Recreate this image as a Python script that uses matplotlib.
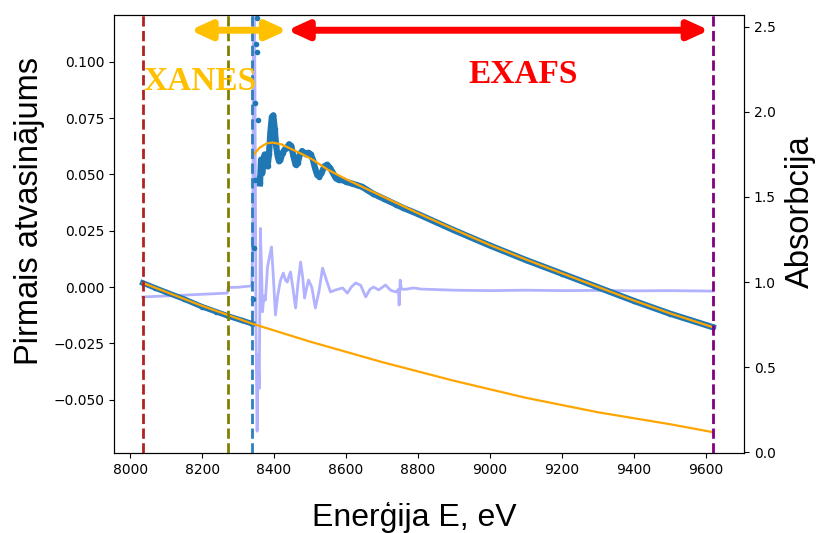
import matplotlib
matplotlib.use("Agg")
import matplotlib.pyplot as plt

# absorption spectrum (right axis), pre-edge part, white line, post-edge part
pre_e = [8035, 8070, 8100, 8150, 8200, 8240, 8273, 8310, 8340]
pre_mu = [0.995, 0.965, 0.94, 0.90, 0.855, 0.825, 0.80, 0.775, 0.755]

edge_e = [8342, 8344, 8346, 8348, 8350, 8352, 8354, 8356, 8358]
edge_mu = [0.90, 1.20, 1.60, 2.05, 2.40, 2.55, 2.35, 1.95, 1.62]

post_e = [8361, 8364, 8367, 8370, 8374, 8378, 8382, 8386,
          8390, 8394, 8398, 8402, 8406, 8410, 8414, 8418,
          8424, 8430, 8436, 8442, 8448, 8454, 8460, 8466,
          8472, 8478, 8484, 8490, 8496, 8502, 8508, 8514,
          8520, 8526, 8532, 8540, 8548, 8556, 8564, 8572,
          8580, 8590, 8600, 8615, 8630, 8645, 8660, 8675,
          8690, 8705, 8720, 8740, 8760, 8800, 8900, 9000,
          9100, 9200, 9300, 9400, 9500, 9620]
post_mu = [1.58, 1.72, 1.64, 1.68, 1.75, 1.70, 1.68, 1.75,
           1.88, 1.97, 1.98, 1.90, 1.80, 1.74, 1.71, 1.72,
           1.76, 1.78, 1.79, 1.81, 1.80, 1.74, 1.69, 1.70,
           1.75, 1.77, 1.76, 1.75, 1.76, 1.75, 1.72, 1.67,
           1.63, 1.62, 1.64, 1.68, 1.69, 1.67, 1.64, 1.61,
           1.60, 1.60, 1.59, 1.58, 1.57, 1.56, 1.54, 1.52,
           1.505, 1.49, 1.475, 1.455, 1.435, 1.40, 1.305, 1.215,
           1.13, 1.05, 0.97, 0.89, 0.815, 0.735]

# pre-edge and post-edge fits
pre_fit_e = [8035, 8200, 8340, 8500, 8700, 8900, 9100, 9300, 9500, 9620]
pre_fit_mu = [0.995, 0.86, 0.755, 0.65, 0.53, 0.42, 0.32, 0.235, 0.165, 0.118]

post_fit_e = [8340, 8360, 8380, 8396, 8420, 8450, 8480, 8507,
              8550, 8600, 8650, 8700, 8750, 8800, 8900, 9000,
              9100, 9200, 9300, 9400, 9500, 9620]
post_fit_mu = [1.74, 1.79, 1.815, 1.82, 1.81, 1.78, 1.75, 1.72,
               1.66, 1.605, 1.555, 1.505, 1.455, 1.405, 1.31, 1.218,
               1.133, 1.052, 0.972, 0.892, 0.817, 0.735]

# first derivative (left axis)
der_e = [8035, 8150, 8270, 8273, 8300, 8338, 8341, 8344,
         8347, 8350, 8353, 8356, 8359, 8362, 8365, 8368,
         8372, 8376, 8382, 8388, 8393, 8398, 8404, 8410,
         8418, 8426, 8432, 8437, 8441, 8446, 8453, 8460,
         8467, 8474, 8480, 8485, 8490, 8496, 8505, 8515,
         8525, 8535, 8546, 8557, 8571, 8591, 8604, 8615,
         8627, 8641, 8655, 8667, 8677, 8691, 8710, 8725,
         8740, 8746, 8748, 8751, 8754, 8766, 8788, 8808,
         8900, 9000, 9100, 9200, 9300, 9400, 9500, 9620]
der_v = [-0.0044, -0.0036, -0.0027, -0.0002, -0.0001, 0.0005, 0.02, 0.16,
         0.09, -0.02, -0.064, -0.03, -0.045, 0.026, 0.01, -0.011,
         -0.004, -0.0058, 0.0089, 0.014, 0.0178, 0.005, -0.0124, -0.004,
         0.003, 0.0062, 0.003, 0.0022, 0.0045, 0.0067, -0.001, -0.0093,
         0.002, 0.0111, 0.004, -0.0049, -0.001, 0.0031, 0.0, -0.0093,
         -0.002, 0.0084, 0.003, -0.0022, -0.0013, -0.0004, -0.0027, 0.0,
         0.0018, 0.0008, -0.0044, -0.001, 0.0, -0.0013, 0.0009, -0.0015,
         -0.0022, -0.001, -0.008, 0.0031, -0.0009, -0.001, -0.0004, -0.0009,
         -0.0014, -0.0016, -0.0014, -0.0016, -0.0015, -0.0017, -0.0016, -0.0018]

# region boundaries
e0_start = 8035
pre_end = 8273
edge = 8340
e_end = 9620

fig = plt.figure(figsize=(8.23, 5.33), dpi=100)
ax = fig.add_axes([0.1385, 0.150, 0.7655, 0.822])
ax2 = ax.twinx()

ax.plot(der_e, der_v, color="blue", alpha=0.3, lw=2)
ax.set_xlim(7955, 9707)
ax.set_ylim(-0.0737, 0.1208)
ax.set_yticks([-0.050, -0.025, 0.0, 0.025, 0.050, 0.075, 0.100])

blue = "#1f77b4"
ax2.plot(pre_e, pre_mu, color=blue, lw=4, marker="o", ms=3)
ax2.plot(edge_e, edge_mu, color=blue, ls="none", marker="o", ms=3)
ax2.plot(post_e, post_mu, color=blue, lw=4.5, marker="o", ms=3)
ax2.plot(pre_fit_e, pre_fit_mu, color="orange", lw=1.6)
ax2.plot(post_fit_e, post_fit_mu, color="orange", lw=1.6)

ax2.axvline(e0_start, color="firebrick", ls="--", lw=2)
ax2.axvline(pre_end, color="olive", ls="--", lw=2)
ax2.axvline(edge, color="#2f7fbf", ls="--", lw=2)
ax2.axvline(e_end, color="purple", ls="--", lw=2)

ax2.set_ylim(-0.005, 2.57)
ax2.set_yticks([0.0, 0.5, 1.0, 1.5, 2.0, 2.5])

# axis titles
fig.text(0.036, 0.604, "Pirmais atvasinājums", rotation=90, fontsize=23.5,
         family="Liberation Sans", ha="center", va="center")
fig.text(0.972, 0.602, "Absorbcija", rotation=90, fontsize=23.5,
         family="Liberation Sans", ha="center", va="center")
fig.text(0.504, 0.030, "Enerģija E, eV", fontsize=23,
         family="Liberation Sans", ha="center", va="center")

# XANES / EXAFS ranges
arrow_y = 2.48
ax2.annotate("", xy=(8437, arrow_y), xytext=(8167, arrow_y),
             arrowprops=dict(arrowstyle="<|-|>,head_length=1.2,head_width=0.55",
                             color="#FFC000", lw=5, shrinkA=0, shrinkB=0))
ax2.annotate("", xy=(9610, arrow_y), xytext=(8437, arrow_y),
             arrowprops=dict(arrowstyle="<|-|>,head_length=1.2,head_width=0.55",
                             color="red", lw=5, shrinkA=0, shrinkB=0))
ax2.text(8195, 2.176, "XANES", color="#FFC000", fontsize=24, fontweight="bold",
         family="Liberation Serif", ha="center", va="center")
ax2.text(9092, 2.22, "EXAFS", color="red", fontsize=24, fontweight="bold",
         family="Liberation Serif", ha="center", va="center")

fig.savefig("out.png", dpi=100)
